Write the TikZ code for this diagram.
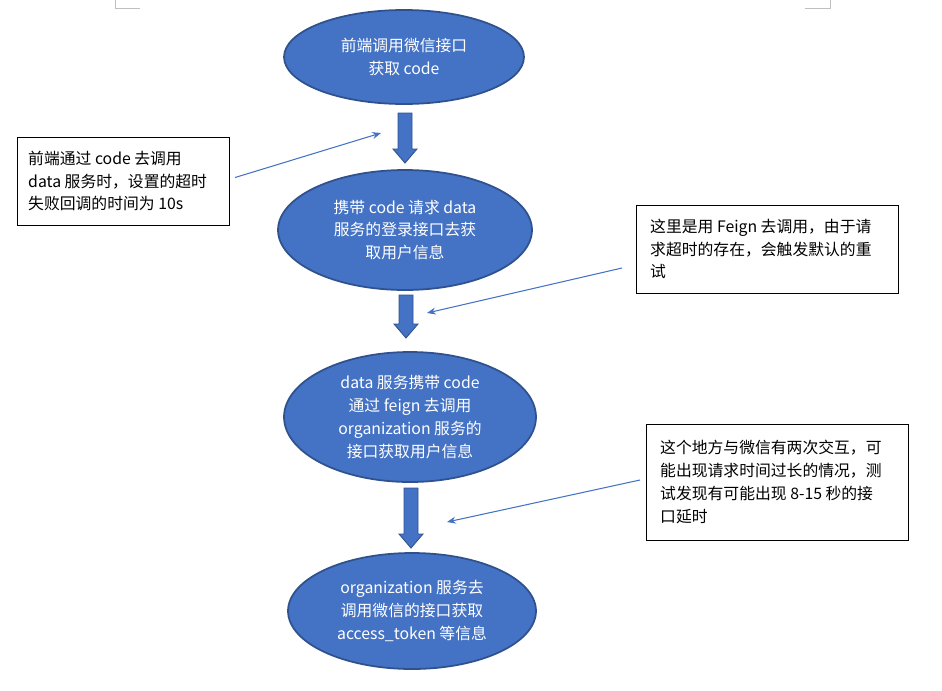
\documentclass[tikz,border=0pt]{standalone}
\usepackage{fontspec}
\setmainfont{Noto Sans CJK SC}
\usetikzlibrary{shapes.geometric,arrows.meta}
\definecolor{stepblue}{HTML}{4472C4}
\definecolor{stepedge}{HTML}{2F528F}
\tikzset{
    stepell/.style={ellipse, fill=stepblue, draw=stepedge, line width=1pt, text=white,
        font=\fontsize{9}{13}\selectfont, align=center, inner sep=0pt},
    notebox/.style={draw, line width=0.6pt, font=\fontsize{9}{13}\selectfont, align=left,
        inner sep=0pt, anchor=north west},
    bigarrow/.style={draw=stepedge, fill=stepblue, line width=0.5pt},
    thinarrow/.style={stepblue, line width=0.6pt, -{Stealth[length=5pt,width=4pt]}}
}
\begin{document}
\begin{tikzpicture}[x=0.02cm, y=-0.02cm]
    \useasboundingbox (0,0) rectangle (942,690);
    % corner marks
    \draw[gray!50] (115,0) -- (115,8) -- (140,8);
    \draw[gray!50] (830,0) -- (830,8) -- (805,8);

    % steps
    \node[stepell, minimum width=240\pgflinewidth, minimum width=4.8cm, minimum height=1.88cm] (s1) at (404,57) {前端调用微信接口\\获取 code};
    \node[stepell, minimum width=5.08cm, minimum height=2.4cm] (s2) at (405,230) {携带 code 请求 data\\服务的登录接口去获\\取用户信息};
    \node[stepell, minimum width=5.04cm, minimum height=2.6cm] (s3) at (410,417) {data 服务携带 code\\通过 feign 去调用\\organization 服务的\\接口获取用户信息};
    \node[stepell, minimum width=4.96cm, minimum height=2.32cm] (s4) at (412,611) {organization 服务去\\调用微信的接口获取\\access\_token 等信息};

    % block arrows between steps
    \foreach \xa/\ya/\yb in {405/113/163, 406/295/338, 411/488/548} {
        \fill[bigarrow] (\xa-7,\ya) -- (\xa+7,\ya) -- (\xa+7,\yb-14) -- (\xa+12,\yb-14)
            -- (\xa,\yb) -- (\xa-12,\yb-14) -- (\xa-7,\yb-14) -- cycle;
    }

    % notes
    \node[notebox, minimum width=4.24cm, minimum height=1.76cm] (n1) at (17,137) {};
    \node[font=\fontsize{9}{13}\selectfont, align=left, anchor=west] at (22,181) {前端通过 code 去调用\\data 服务时，设置的超时\\失败回调的时间为 10s};
    \node[notebox, minimum width=5.24cm, minimum height=1.76cm] (n2) at (636,205) {};
    \node[font=\fontsize{9}{13}\selectfont, align=left, anchor=west] at (644,249) {这里是用 Feign 去调用，由于请\\求超时的存在，会触发默认的重\\试};
    \node[notebox, minimum width=5.24cm, minimum height=2.32cm] (n3) at (646,424) {};
    \node[font=\fontsize{9}{13}\selectfont, align=left, anchor=west] at (654,482) {这个地方与微信有两次交互，可\\能出现请求时间过长的情况，测\\试发现有可能出现 8-15 秒的接\\口延时};

    % pointers
    \coordinate (p1) at (381,133);
    \coordinate (p2) at (427,313);
    \coordinate (p3) at (447,522);
    \draw[thinarrow] (n1.east) ++(5,-4) -- (p1);
    \draw[thinarrow] (622,268) -- (p2);
    \draw[thinarrow] (640,480) -- (p3);
\end{tikzpicture}
\end{document}
